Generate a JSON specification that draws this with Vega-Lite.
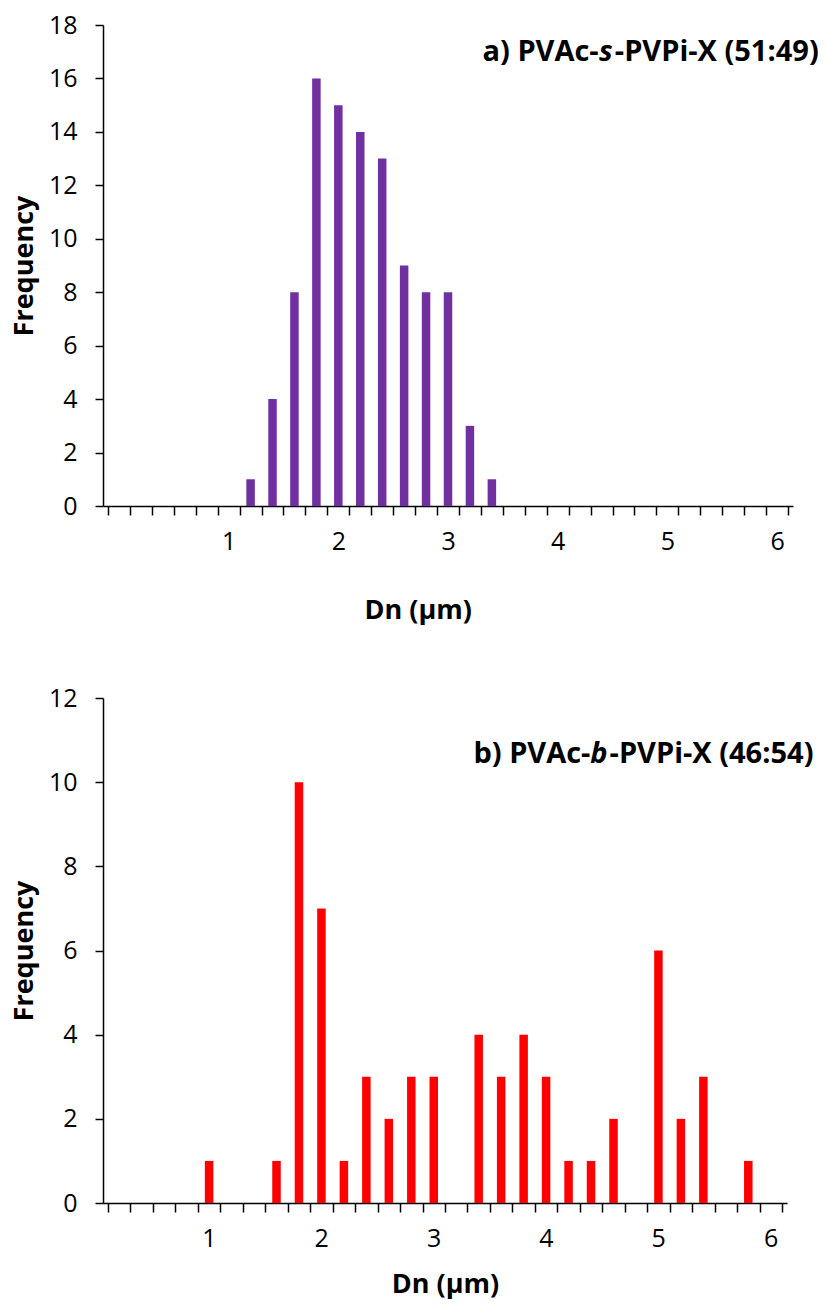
{
  "$schema": "https://vega.github.io/schema/vega-lite/v6.json",
  "background": "white",
  "padding": {"left": 10, "top": 13, "right": 0, "bottom": 4},
  "config": {
    "view": {"stroke": null},
    "font": "Open Sans",
    "axis": {
      "grid": false,
      "domainColor": "#000",
      "domainWidth": 1.5,
      "tickColor": "#000",
      "tickWidth": 1.5,
      "tickSize": 8,
      "labelFont": "Open Sans",
      "labelFontSize": 25,
      "labelColor": "#000",
      "labelOverlap": false,
      "labelBound": false,
      "titleFont": "Open Sans",
      "titleFontSize": 27,
      "titleFontWeight": "bold",
      "titleColor": "#000"
    }
  },
  "datasets": {
    "a": [
      {"Dn": 1.2, "Frequency": 1},
      {"Dn": 1.4, "Frequency": 4},
      {"Dn": 1.6, "Frequency": 8},
      {"Dn": 1.8, "Frequency": 16},
      {"Dn": 2.0, "Frequency": 15},
      {"Dn": 2.2, "Frequency": 14},
      {"Dn": 2.4, "Frequency": 13},
      {"Dn": 2.6, "Frequency": 9},
      {"Dn": 2.8, "Frequency": 8},
      {"Dn": 3.0, "Frequency": 8},
      {"Dn": 3.2, "Frequency": 3},
      {"Dn": 3.4, "Frequency": 1}
    ],
    "b": [
      {"Dn": 1.0, "Frequency": 1},
      {"Dn": 1.6, "Frequency": 1},
      {"Dn": 1.8, "Frequency": 10},
      {"Dn": 2.0, "Frequency": 7},
      {"Dn": 2.2, "Frequency": 1},
      {"Dn": 2.4, "Frequency": 3},
      {"Dn": 2.6, "Frequency": 2},
      {"Dn": 2.8, "Frequency": 3},
      {"Dn": 3.0, "Frequency": 3},
      {"Dn": 3.4, "Frequency": 4},
      {"Dn": 3.6, "Frequency": 3},
      {"Dn": 3.8, "Frequency": 4},
      {"Dn": 4.0, "Frequency": 3},
      {"Dn": 4.2, "Frequency": 1},
      {"Dn": 4.4, "Frequency": 1},
      {"Dn": 4.6, "Frequency": 2},
      {"Dn": 5.0, "Frequency": 6},
      {"Dn": 5.2, "Frequency": 2},
      {"Dn": 5.4, "Frequency": 3},
      {"Dn": 5.8, "Frequency": 1}
    ]
  },
  "spacing": 63,
  "vconcat": [
    {
      "width": 690,
      "height": 481,
      "layer": [
        {
          "data": {"name": "a"},
          "mark": {"type": "bar", "width": 8.5, "color": "#7030A0"},
          "encoding": {
            "x": {
              "field": "Dn",
              "type": "quantitative",
              "scale": {"domain": [-0.1, 6.1], "nice": false, "zero": false},
              "axis": {
                "title": "Dn (µm)",
                "values": [-0.1, 0.1, 0.3, 0.5, 0.7, 0.9, 1.1, 1.3, 1.5, 1.7, 1.9, 2.1, 2.3, 2.5, 2.7, 2.9, 3.1, 3.3, 3.5, 3.7, 3.9, 4.1, 4.3, 4.5, 4.7, 4.9, 5.1, 5.3, 5.5, 5.7, 5.9, 6.1],
                "tickCount": 40,
                "labelExpr": "datum.value > 0.5 && abs(datum.value + 0.1 - round(datum.value + 0.1)) < 0.01 ? format(round(datum.value + 0.1), 'd') : ''",
                "labelOffset": 11,
                "labelPadding": 14,
                "tickSize": 9,
                "titlePadding": 43,
                "titleAnchor": "start",
                "titleX": 261
              }
            },
            "y": {
              "field": "Frequency",
              "type": "quantitative",
              "scale": {"domain": [0, 18], "nice": false},
              "axis": {
                "title": "Frequency",
                "values": [0, 2, 4, 6, 8, 10, 12, 14, 16, 18],
                "format": "d",
                "labelPadding": 18,
                "titlePadding": 10
              }
            }
          }
        },
        {
          "data": {"values": [{}]},
          "mark": {"type": "text", "align": "right", "baseline": "middle", "fontSize": 29, "fontWeight": "bold", "font": "Open Sans", "color": "#000"},
          "encoding": {"x": {"datum": 6.38, "type": "quantitative"}, "y": {"datum": 17, "type": "quantitative"}, "text": {"value": "-PVPi-X (51:49)"}}
        },
        {
          "data": {"values": [{}]},
          "mark": {"type": "text", "align": "right", "baseline": "middle", "fontSize": 29, "fontWeight": "bold", "fontStyle": "italic", "font": "Open Sans", "color": "#000", "dx": -206},
          "encoding": {"x": {"datum": 6.38, "type": "quantitative"}, "y": {"datum": 17, "type": "quantitative"}, "text": {"value": "s"}}
        },
        {
          "data": {"values": [{}]},
          "mark": {"type": "text", "align": "right", "baseline": "middle", "fontSize": 29, "fontWeight": "bold", "font": "Open Sans", "color": "#000", "dx": -220},
          "encoding": {"x": {"datum": 6.38, "type": "quantitative"}, "y": {"datum": 17, "type": "quantitative"}, "text": {"value": "a) PVAc-"}}
        }
      ]
    },
    {
      "width": 684,
      "height": 505,
      "layer": [
        {
          "data": {"name": "b"},
          "mark": {"type": "bar", "width": 8.5, "color": "#FF0000"},
          "encoding": {
            "x": {
              "field": "Dn",
              "type": "quantitative",
              "scale": {"domain": [0.1, 6.1], "nice": false, "zero": false},
              "axis": {
                "title": "Dn (µm)",
                "values": [0.1, 0.3, 0.5, 0.7, 0.9, 1.1, 1.3, 1.5, 1.7, 1.9, 2.1, 2.3, 2.5, 2.7, 2.9, 3.1, 3.3, 3.5, 3.7, 3.9, 4.1, 4.3, 4.5, 4.7, 4.9, 5.1, 5.3, 5.5, 5.7, 5.9, 6.1],
                "tickCount": 40,
                "labelExpr": "datum.value > 0.5 && abs(datum.value + 0.1 - round(datum.value + 0.1)) < 0.01 ? format(round(datum.value + 0.1), 'd') : ''",
                "labelOffset": 11,
                "labelPadding": 14,
                "tickSize": 9,
                "titlePadding": 20
              }
            },
            "y": {
              "field": "Frequency",
              "type": "quantitative",
              "scale": {"domain": [0, 12], "nice": false},
              "axis": {
                "title": "Frequency",
                "values": [0, 2, 4, 6, 8, 10, 12],
                "format": "d",
                "labelPadding": 18,
                "titlePadding": 10
              }
            }
          }
        },
        {
          "data": {"values": [{}]},
          "mark": {"type": "text", "align": "right", "baseline": "middle", "fontSize": 29, "fontWeight": "bold", "font": "Open Sans", "color": "#000"},
          "encoding": {"x": {"datum": 6.38, "type": "quantitative"}, "y": {"datum": 10.66, "type": "quantitative"}, "text": {"value": "-PVPi-X (46:54)"}}
        },
        {
          "data": {"values": [{}]},
          "mark": {"type": "text", "align": "right", "baseline": "middle", "fontSize": 29, "fontWeight": "bold", "fontStyle": "italic", "font": "Open Sans", "color": "#000", "dx": -206},
          "encoding": {"x": {"datum": 6.38, "type": "quantitative"}, "y": {"datum": 10.66, "type": "quantitative"}, "text": {"value": "b"}}
        },
        {
          "data": {"values": [{}]},
          "mark": {"type": "text", "align": "right", "baseline": "middle", "fontSize": 29, "fontWeight": "bold", "font": "Open Sans", "color": "#000", "dx": -223},
          "encoding": {"x": {"datum": 6.38, "type": "quantitative"}, "y": {"datum": 10.66, "type": "quantitative"}, "text": {"value": "b) PVAc-"}}
        }
      ]
    }
  ]
}
